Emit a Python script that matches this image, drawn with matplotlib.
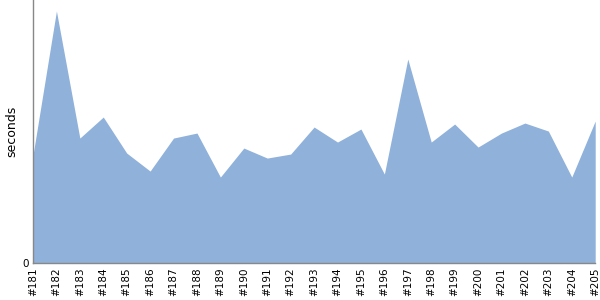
import numpy as np
import matplotlib.pyplot as plt

# builds and durations
builds = ['#181', '#182', '#183', '#184', '#185', '#186', '#187', '#188', '#189',
          '#190', '#191', '#192', '#193', '#194', '#195', '#196', '#197', '#198',
          '#199', '#200', '#201', '#202', '#203', '#204', '#205']
seconds = [108, 252, 125, 146, 110, 92, 125, 130, 86, 115, 105, 109, 136,
           121, 134, 89, 204, 121, 139, 116, 130, 140, 132, 86, 142]
y_max = 263

fig = plt.figure(figsize=(6, 3), dpi=100)
ax = fig.add_axes([0.055, 0.123, 0.937, 0.877])

x = np.arange(len(builds))
ax.fill_between(x, seconds, 0, color='#8fb1da', linewidth=0)

ax.set_xlim(0, len(builds) - 1)
ax.set_ylim(0, y_max)
ax.set_xticks(x)
ax.set_xticklabels(builds, rotation=90, fontsize=7.5)
ax.set_yticks([0])
ax.set_yticklabels(['0'], fontsize=7.5)
ax.tick_params(length=0, pad=3)
ax.set_ylabel('seconds', fontsize=9, labelpad=3)

for s in ['top', 'right']:
    ax.spines[s].set_visible(False)
for s in ['left', 'bottom']:
    ax.spines[s].set_color('#888888')
    ax.spines[s].set_linewidth(1)

fig.savefig('out.png', dpi=100)
